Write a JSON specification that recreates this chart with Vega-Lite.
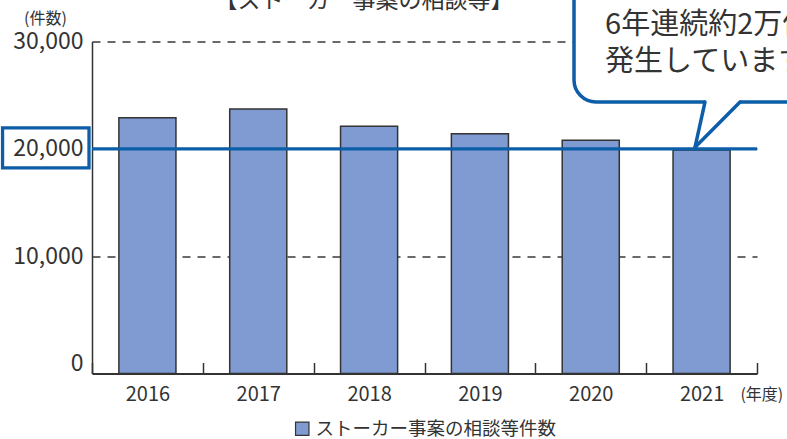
{
  "$schema": "https://vega.github.io/schema/vega-lite/v6.json",
  "width": 665,
  "height": 332,
  "autosize": {"type": "none"},
  "padding": {"left": 92, "top": 41.5, "right": 30, "bottom": 65.5},
  "background": "white",
  "config": {
    "font": "Noto Sans CJK JP",
    "view": {"stroke": null}
  },
  "layer": [
    {
      "data": {
        "values": [
          {"year": "2016", "count": 22900, "series": "ストーカー事案の相談等件数"},
          {"year": "2017", "count": 23700, "series": "ストーカー事案の相談等件数"},
          {"year": "2018", "count": 22100, "series": "ストーカー事案の相談等件数"},
          {"year": "2019", "count": 21400, "series": "ストーカー事案の相談等件数"},
          {"year": "2020", "count": 20800, "series": "ストーカー事案の相談等件数"},
          {"year": "2021", "count": 19900, "series": "ストーカー事案の相談等件数"}
        ]
      },
      "mark": {"type": "bar", "width": {"band": 0.515}, "stroke": "#333333", "strokeWidth": 1.5},
      "encoding": {
        "x": {
          "field": "year", "type": "ordinal",
          "scale": {"paddingInner": 0, "paddingOuter": 0},
          "axis": {
            "title": null, "labelAngle": 0, "labelFontSize": 20, "labelColor": "#333333",
            "tickBand": "extent", "tickSize": -11, "tickColor": "#333333", "tickWidth": 1.5,
            "domainColor": "#333333", "domainWidth": 2, "labelPadding": 22, "grid": false
          }
        },
        "y": {
          "field": "count", "type": "quantitative",
          "scale": {"domain": [-930, 30000], "nice": false, "zero": false},
          "axis": {
            "title": null, "values": [0, 10000, 20000, 30000], "format": ",d",
            "ticks": false, "labelPadding": 9, "labelFontSize": 23, "labelColor": "#333333",
            "domainColor": "#333333", "domainWidth": 1.5,
            "grid": true, "gridColor": "#3a3a3a", "gridDash": [8, 7], "gridWidth": 1.3,
            "gridOpacity": {"condition": {"test": "datum.value === 0", "value": 0}, "value": 1}
          }
        },
        "y2": {"datum": -930},
        "color": {
          "field": "series", "type": "nominal",
          "scale": {"range": ["#7f9bd1"]},
          "legend": {
            "title": null, "orient": "none", "legendX": 201, "legendY": 378,
            "symbolType": "square", "symbolSize": 180,
            "symbolStrokeColor": "#333333", "symbolStrokeWidth": 1.2,
            "labelFontSize": 18.5, "labelColor": "#333333", "labelLimit": 0
          }
        }
      }
    },
    {
      "data": {"values": [{}]},
      "layer": [
        {
          "mark": {"type": "rule", "color": "#0d5ea8", "strokeWidth": 3.3},
          "encoding": {
            "y": {"datum": 20000, "type": "quantitative", "scale": {"domain": [-930, 30000], "nice": false, "zero": false}, "axis": null}
          }
        },
        {
          "mark": {"type": "rect", "fill": null, "fillOpacity": 0, "stroke": "#0d5ea8", "strokeWidth": 3.3},
          "encoding": {
            "x": {"datum": -0.807, "type": "quantitative", "scale": {"domain": [0, 6], "nice": false, "zero": false}, "axis": null},
            "x2": {"datum": -0.027},
            "y": {"datum": 21948, "type": "quantitative", "scale": {"domain": [-930, 30000], "nice": false, "zero": false}, "axis": null},
            "y2": {"datum": 18220}
          }
        },
        {
          "mark": {"type": "rect", "fill": "white", "stroke": "#0d5ea8", "strokeWidth": 3.5, "cornerRadius": 22},
          "encoding": {
            "x": {"datum": 4.349, "type": "quantitative", "scale": {"domain": [0, 6], "nice": false, "zero": false}, "axis": null},
            "x2": {"datum": 6.6},
            "y": {"datum": 36000, "type": "quantitative", "scale": {"domain": [-930, 30000], "nice": false, "zero": false}, "axis": null},
            "y2": {"datum": 24371}
          }
        },
        {
          "mark": {"type": "rule", "color": "white", "strokeWidth": 6, "strokeCap": "butt"},
          "encoding": {
            "x": {"datum": 5.531, "type": "quantitative", "scale": {"domain": [0, 6], "nice": false, "zero": false}, "axis": null},
            "x2": {"datum": 5.847},
            "y": {"datum": 24371, "type": "quantitative", "scale": {"domain": [-930, 30000], "nice": false, "zero": false}, "axis": null}
          }
        },
        {
          "mark": {"type": "rule", "color": "#0d5ea8", "strokeWidth": 3.5, "strokeCap": "round"},
          "encoding": {
            "x": {"datum": 5.531, "type": "quantitative", "scale": {"domain": [0, 6], "nice": false, "zero": false}, "axis": null},
            "x2": {"datum": 5.441},
            "y": {"datum": 24371, "type": "quantitative", "scale": {"domain": [-930, 30000], "nice": false, "zero": false}, "axis": null},
            "y2": {"datum": 20150}
          }
        },
        {
          "mark": {"type": "rule", "color": "#0d5ea8", "strokeWidth": 3.5, "strokeCap": "round"},
          "encoding": {
            "x": {"datum": 5.441, "type": "quantitative", "scale": {"domain": [0, 6], "nice": false, "zero": false}, "axis": null},
            "x2": {"datum": 5.847},
            "y": {"datum": 20150, "type": "quantitative", "scale": {"domain": [-930, 30000], "nice": false, "zero": false}, "axis": null},
            "y2": {"datum": 24371}
          }
        },
        {
          "mark": {"type": "text", "text": "6年連続約2万件以上", "align": "left", "baseline": "middle", "fontSize": 29, "color": "#333333"},
          "encoding": {
            "x": {"datum": 4.629, "type": "quantitative", "scale": {"domain": [0, 6], "nice": false, "zero": false}, "axis": null},
            "y": {"datum": 31500, "type": "quantitative", "scale": {"domain": [-930, 30000], "nice": false, "zero": false}, "axis": null}
          }
        },
        {
          "mark": {"type": "text", "text": "発生しています。", "align": "left", "baseline": "middle", "fontSize": 29, "color": "#333333"},
          "encoding": {
            "x": {"datum": 4.629, "type": "quantitative", "scale": {"domain": [0, 6], "nice": false, "zero": false}, "axis": null},
            "y": {"datum": 28052, "type": "quantitative", "scale": {"domain": [-930, 30000], "nice": false, "zero": false}, "axis": null}
          }
        },
        {
          "mark": {"type": "text", "text": "【ストーカー事案の相談等】", "align": "center", "baseline": "middle", "fontSize": 23, "color": "#333333"},
          "encoding": {
            "x": {"datum": 2.454, "type": "quantitative", "scale": {"domain": [0, 6], "nice": false, "zero": false}, "axis": null},
            "y": {"datum": 33800, "type": "quantitative", "scale": {"domain": [-930, 30000], "nice": false, "zero": false}, "axis": null}
          }
        },
        {
          "mark": {"type": "text", "text": "(件数)", "align": "center", "baseline": "middle", "fontSize": 16, "color": "#333333"},
          "encoding": {
            "x": {"datum": -0.42, "type": "quantitative", "scale": {"domain": [0, 6], "nice": false, "zero": false}, "axis": null},
            "y": {"datum": 32100, "type": "quantitative", "scale": {"domain": [-930, 30000], "nice": false, "zero": false}, "axis": null}
          }
        },
        {
          "mark": {"type": "text", "text": "(年度)", "align": "left", "baseline": "middle", "fontSize": 16, "color": "#333333"},
          "encoding": {
            "x": {"datum": 5.85, "type": "quantitative", "scale": {"domain": [0, 6], "nice": false, "zero": false}, "axis": null},
            "y": {"datum": -2936, "type": "quantitative", "scale": {"domain": [-930, 30000], "nice": false, "zero": false}, "axis": null}
          }
        }
      ]
    }
  ],
  "resolve": {"scale": {"x": "independent", "y": "independent"}, "axis": {"x": "independent", "y": "independent"}}
}
